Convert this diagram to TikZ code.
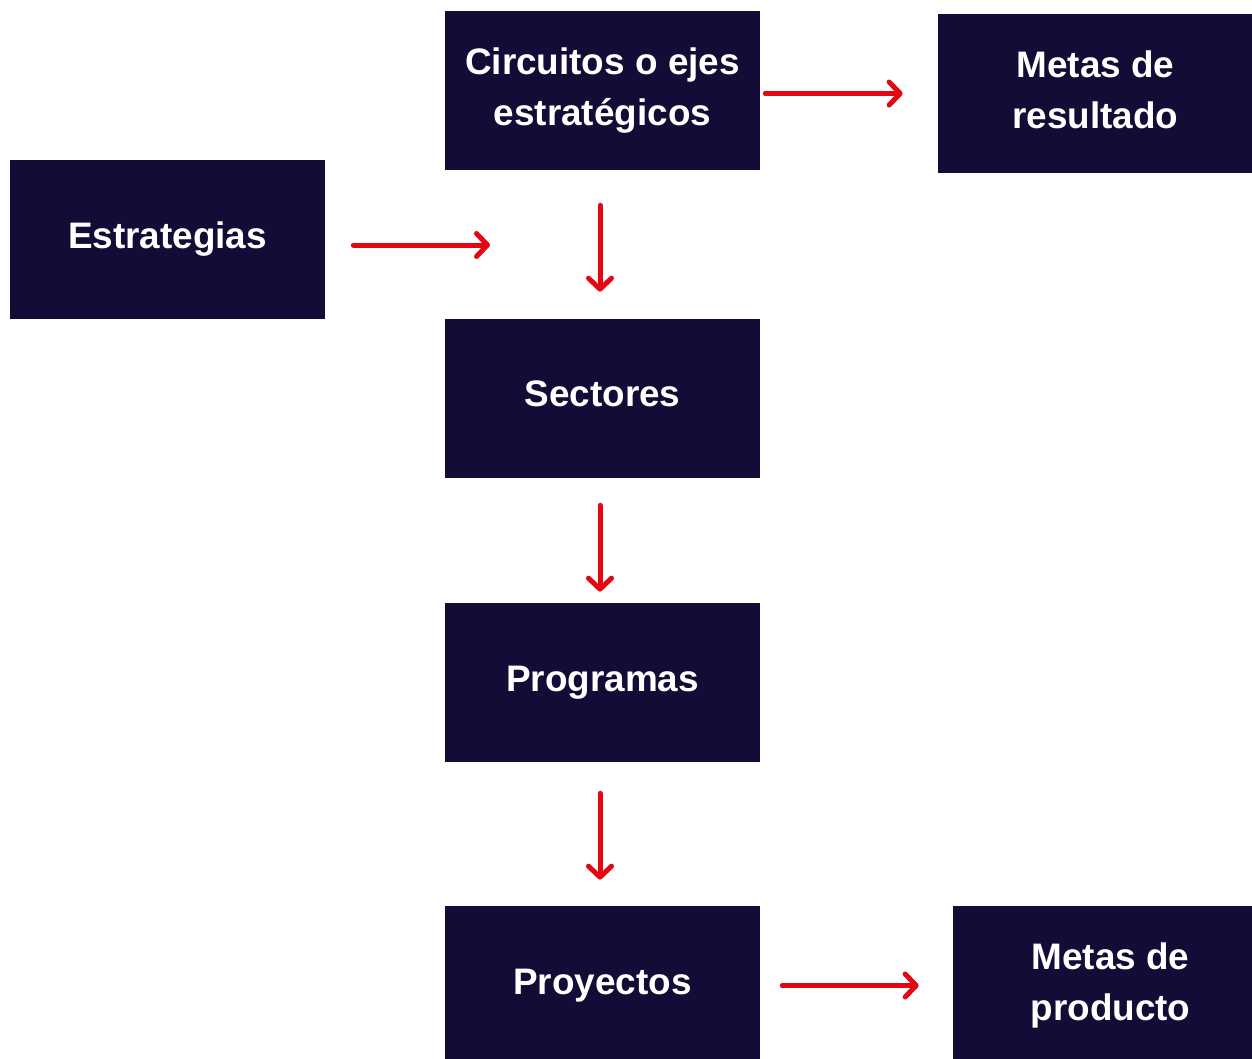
\documentclass[tikz,border=0pt]{standalone}
\usepackage{fontspec}
\setmainfont{Liberation Sans}
\usetikzlibrary{arrows.meta}
\definecolor{navy}{HTML}{120C37}
\definecolor{redarrow}{HTML}{E30613}
\tikzset{
  box/.style={fill=navy, draw=none, text=white, minimum width=6.3cm, minimum height=3.18cm,
    inner sep=0pt, align=center, font=\fontsize{21}{29}\selectfont\bfseries},
  arr/.style={draw=redarrow, line width=0.1cm, line cap=round,
    -{Straight Barb[length=0.22cm, width=0.46cm, line cap=round, line join=round]}}
}
\begin{document}
\begin{tikzpicture}[x=0.02cm, y=-0.02cm]
\useasboundingbox (0,0) rectangle (1252,1059);
\clip (0,0) rectangle (1252,1059);
\node[box] (circ) at (602.5,90.5) {Circuitos o ejes\\estratégicos\rule[-0.15cm]{0pt}{0pt}};
\node[box] (mres) at (1095.5,93.5) {Metas de\\resultado\rule[-0.15cm]{0pt}{0pt}};
\node[box] (est) at (167.5,239.5) {Estrategias};
\node[box] (sect) at (602.5,398.5) {Sectores\rule[-0.2cm]{0pt}{0pt}};
\node[box] (prog) at (602.5,682.5) {Programas};
\node[box] (proy) at (602.5,985.5) {Proyectos};
\node[box] (mprod) at (1110.5,985.5) {Metas de\\producto};
\coordinate (estend) at (490,245);
\draw[arr, shorten <=0.1cm, shorten >=0.7cm] (circ.east |- mres.west) -- (mres.west);
\draw[arr, shorten <=0.56cm] (est.east |- estend) -- (estend);
\draw[arr, shorten <=0.7cm, shorten >=0.54cm] ([xshift=-0.05cm]circ.south) -- ([xshift=-0.05cm]sect.north);
\draw[arr, shorten <=0.54cm, shorten >=0.22cm] ([xshift=-0.05cm]sect.south) -- ([xshift=-0.05cm]prog.north);
\draw[arr, shorten <=0.62cm, shorten >=0.52cm] ([xshift=-0.05cm]prog.south) -- ([xshift=-0.05cm]proy.north);
\draw[arr, shorten <=0.44cm, shorten >=0.68cm] (proy.east) -- (mprod.west);
\end{tikzpicture}
\end{document}
